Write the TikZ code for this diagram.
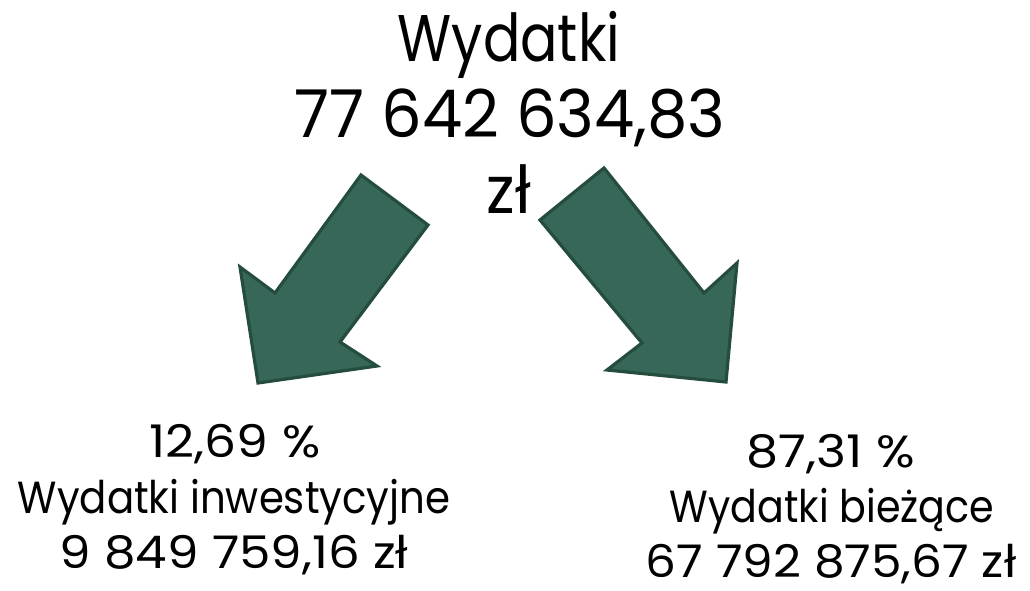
\documentclass[tikz,border=0pt]{standalone}
\usepackage{graphicx}
\usepackage{fontspec}
\setmainfont{Poppins}
\definecolor{arrowfill}{RGB}{55,103,88}
\definecolor{arrowline}{RGB}{36,77,61}
\newcommand{\hsq}[2]{\scalebox{#1}[1]{#2}}
\begin{document}
\begin{tikzpicture}[x=1pt,y=-1pt,
  bigtxt/.style={anchor=base,inner sep=0pt,font=\fontsize{66}{75}\selectfont},
  smalltxt/.style={anchor=base,inner sep=0pt,font=\fontsize{45}{55}\selectfont},
  bigarrow/.style={fill=arrowfill,draw=arrowline,line width=3.2pt,line join=miter}]
\useasboundingbox (0,0) rectangle (1030,591);
% arrows
\draw[bigarrow] (361,175) -- (428,225) -- (340,342) -- (377,366) -- (258,383) -- (240,267) -- (275,293) -- cycle;
\draw[bigarrow] (540,220) -- (604,168) -- (704,293) -- (737,263) -- (726,382) -- (607,370) -- (642,343) -- cycle;
% top text
\node[bigtxt] (t1) at (509,62) {\hsq{0.84}{Wydatki}};
\node[bigtxt] (t2) at (510,137) {\hsq{0.97}{77 642 634,83}};
\node[bigtxt] (t3) at (509,213) {\hsq{0.95}{zł}};
% left text
\node[smalltxt] (l1) at (235,457) {\hsq{1.12}{12,69 \%}};
\node[smalltxt] (l2) at (234,513) {\hsq{0.895}{Wydatki inwestycyjne}};
\node[smalltxt] (l3) at (234,568) {\hsq{1.11}{9 849 759,16 zł}};
% right text
\node[smalltxt] (r1) at (831,467) {\hsq{1.13}{87,31 \%}};
\node[smalltxt] (r2) at (832,522) {\hsq{0.88}{Wydatki bieżące}};
\node[smalltxt] (r3) at (831,577) {\hsq{1.08}{67 792 875,67 zł}};
\end{tikzpicture}
\end{document}
